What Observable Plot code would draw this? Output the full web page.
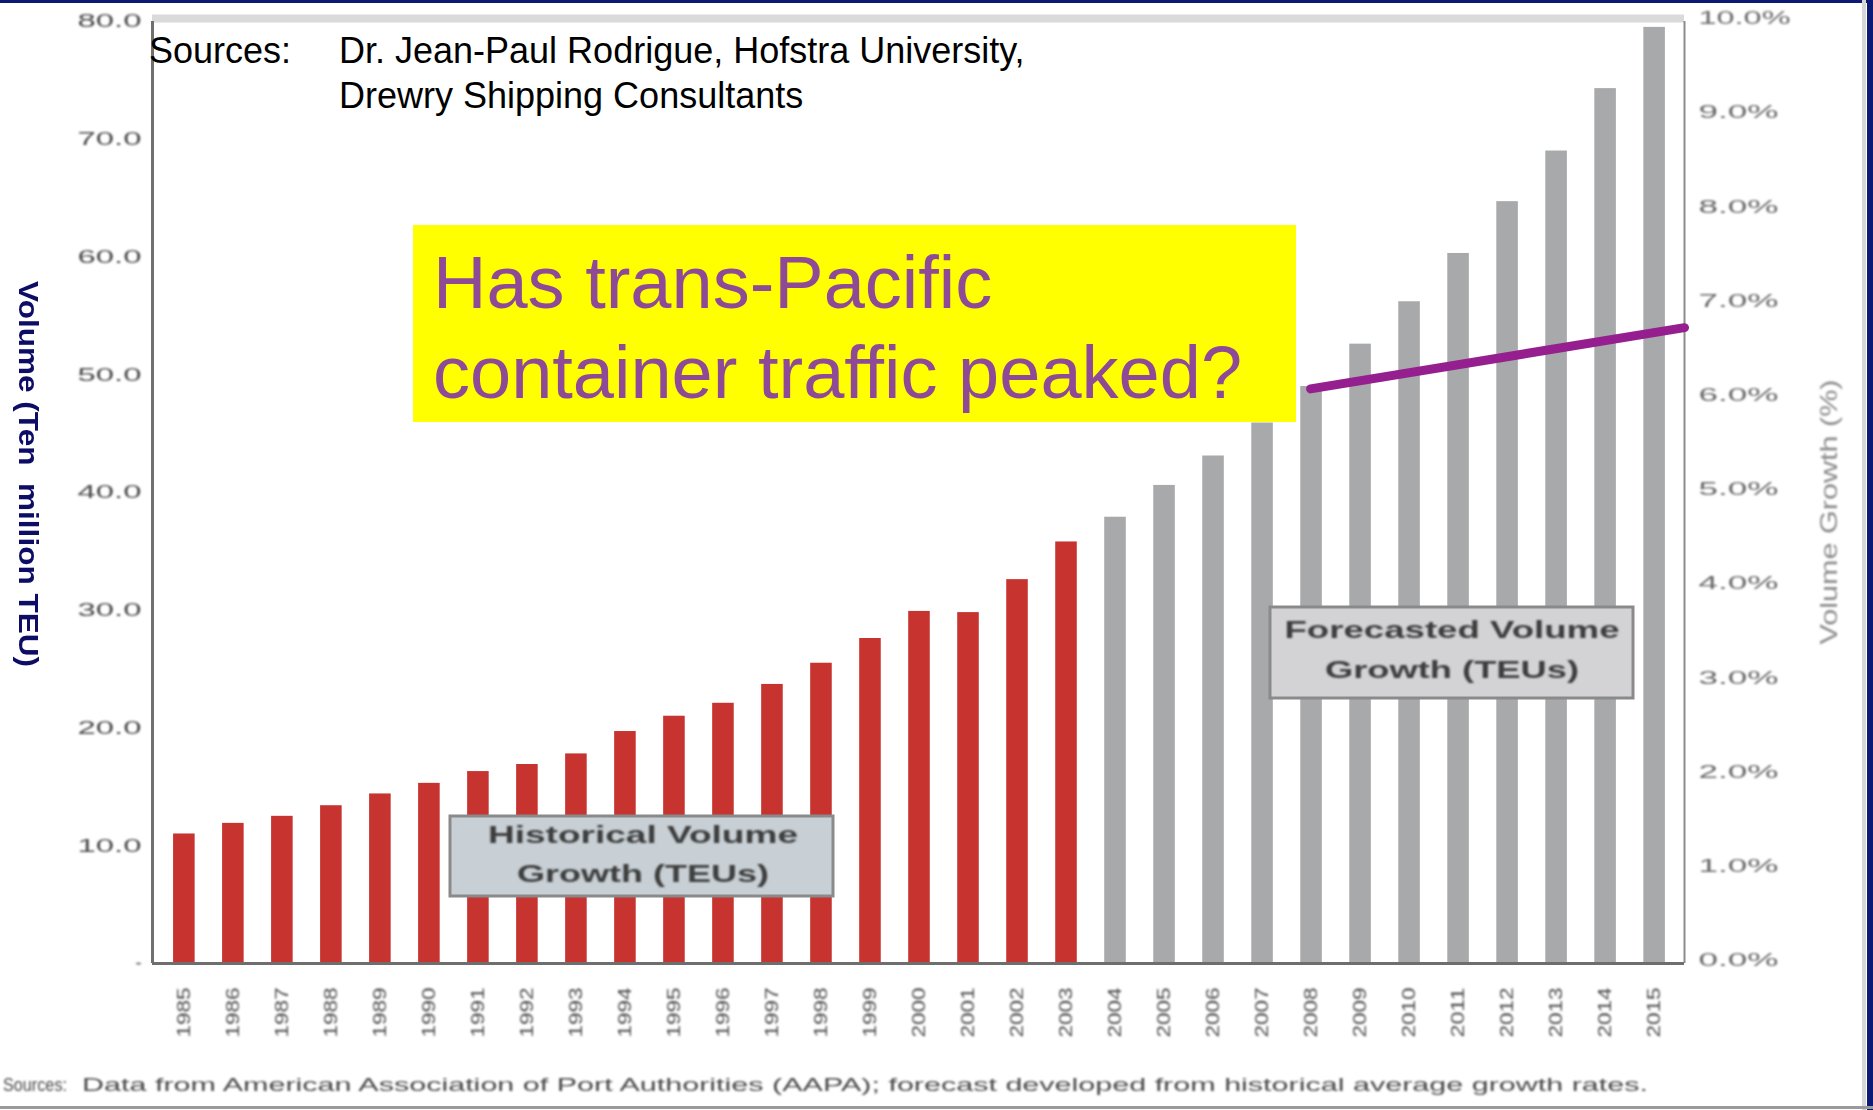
<!DOCTYPE html>
<html>
<head>
<meta charset="utf-8">
<script src="https://cdn.jsdelivr.net/npm/d3@7"></script>
<script src="https://cdn.jsdelivr.net/npm/@observablehq/plot@0.6"></script>
<style>
  html, body { margin: 0; padding: 0; background: #fff; }
  #wrap { position: relative; width: 1873px; height: 1110px; overflow: hidden; background: #fff;
          font-family: "Liberation Sans", Arial, sans-serif; }
  #wrap > svg { position: absolute; left: 0; top: 0; }
  .src { position: absolute; font-size: 36px; line-height: 45px; color: #000; white-space: nowrap; }
  #callout { position: absolute; left: 413px; top: 225px; width: 883px; height: 197px; background: #ffff00;
             box-sizing: border-box; padding: 13px 0 0 20px; font-size: 74px; line-height: 90px; color: #8e4a97; white-space: nowrap; }
</style>
</head>
<body>
<div id="wrap">
  <div class="src" style="left:149px; top:28px;">Sources:</div>
  <div class="src" style="left:339px; top:28px;">Dr. Jean-Paul Rodrigue, Hofstra University,<br>Drewry Shipping Consultants</div>
</div>
<script>
// ---- data ----
const years = [1985, 1986, 1987, 1988, 1989, 1990, 1991, 1992, 1993, 1994,
               1995, 1996, 1997, 1998, 1999, 2000, 2001, 2002, 2003, 2004,
               2005, 2006, 2007, 2008, 2009, 2010, 2011, 2012, 2013, 2014, 2015];
const volumes = [11.0, 11.9, 12.5, 13.4, 14.4, 15.3, 16.3, 16.9, 17.8, 19.7,
                 21.0, 22.1, 23.7, 25.5, 27.6, 29.9, 29.8, 32.6, 35.8, 37.9,
                 40.6, 43.1, 45.9, 49.0, 52.6, 56.2, 60.3, 64.7, 69.0, 74.3, 79.5];
const lastHistoricalYear = 2003;
const periods = ["Historical Volume Growth (TEUs)", "Forecasted Volume Growth (TEUs)"];
const periodColors = ["#c7332f", "#a8a9ab"];
const leftTickValues = [0, 10, 20, 30, 40, 50, 60, 70, 80];
const leftTickLabels = ["-", "10.0", "20.0", "30.0", "40.0", "50.0", "60.0", "70.0", "80.0"];
const rightTickValues = [0, 8, 16, 24, 32, 40, 48, 56, 64, 72, 80];
const rightTickLabels = ["0.0%", "1.0%", "2.0%", "3.0%", "4.0%", "5.0%", "6.0%", "7.0%", "8.0%", "9.0%", "10.0%"];
const xDomain = [1984.35, 2015.61];
const yDomain = [0, 80];
const calloutLine = [{year: 2007.98, volume: 48.8}, {year: 2015.61, volume: 54.0}];

const data = years.map((year, i) => ({
  year, volume: volumes[i], period: year <= lastHistoricalYear ? periods[0] : periods[1]
}));

const plot = Plot.plot({
  width: 1873, height: 1110,
  marginLeft: 152, marginRight: 189, marginTop: 21, marginBottom: 147,
  style: {fontFamily: "Liberation Sans, Arial, sans-serif", fontSize: "18px", color: "#4d4d4d", background: "transparent"},
  x: {domain: xDomain, axis: null},
  y: {domain: yDomain, axis: null},
  color: {domain: periods, range: periodColors},
  marks: [
    Plot.ruleY([yDomain[1]], {stroke: "#dadada", strokeWidth: 8, dy: -3}),
    Plot.rectY(data, {x1: d => d.year - 0.22, x2: d => d.year + 0.22, y: "volume", fill: "period"}),
    Plot.axisX({ticks: years, tickFormat: d => String(d), tickRotate: -90, tickSize: 0, tickPadding: 24,
                color: "#505050", label: null}),
    Plot.axisY({anchor: "left", ticks: leftTickValues, tickFormat: d => leftTickLabels[leftTickValues.indexOf(d)],
                tickSize: 0, tickPadding: 11, color: "#4a4a4a", label: null}),
    Plot.axisY({anchor: "right", ticks: rightTickValues, tickFormat: d => rightTickLabels[rightTickValues.indexOf(d)],
                tickSize: 0, tickPadding: 14, color: "#686868", dy: -3, label: null}),
    Plot.ruleX([xDomain[0]], {stroke: "#707070", strokeWidth: 3}),
    Plot.ruleX([xDomain[1]], {stroke: "#8c8c8c", strokeWidth: 2}),
    Plot.ruleY([0], {stroke: "#6e6e6e", strokeWidth: 3}),
    Plot.line(calloutLine, {x: "year", y: "volume", stroke: "#951f8f", strokeWidth: 9})
  ]
});

const wrap = document.getElementById("wrap");
wrap.insertBefore(plot, wrap.firstChild);

// soft blur + horizontal stretch of the (blurry, stretched) axis labels
const s = d3.select(plot);
const defs = s.append("defs");
defs.append("filter").attr("id", "soft").attr("x", "-20%").attr("y", "-20%").attr("width", "140%").attr("height", "140%")
  .append("feGaussianBlur").attr("stdDeviation", 1.0);
s.selectAll('g[aria-label="x-axis tick label"], g[aria-label="y-axis tick label"]').attr("filter", "url(#soft)");
s.selectAll('g[aria-label="x-axis tick label"] text').attr("textLength", 50).attr("lengthAdjust", "spacingAndGlyphs");
s.selectAll('g[aria-label="y-axis tick label"]').each(function() {
  const g = d3.select(this);
  const anchor = g.attr("text-anchor");
  g.selectAll("text").each(function() {
    const t = d3.select(this); const txt = t.text();
    if (txt === "-") return;
    const len = anchor === "start" ? (txt.length > 4 ? 92 : 80) : 64;
    t.attr("textLength", len).attr("lengthAdjust", "spacingAndGlyphs");
  });
});

// ---- overlay: legend boxes, axis titles, notes, frame ----
const ov = d3.select(wrap).append("svg").attr("width", 1873).attr("height", 1110)
  .style("font-family", "Liberation Sans, Arial, sans-serif");
const od = ov.append("defs");
od.append("filter").attr("id", "soft2").attr("x", "-10%").attr("y", "-30%").attr("width", "120%").attr("height", "160%")
  .append("feGaussianBlur").attr("stdDeviation", 1.1);

const boxes = [
  {x: 450, y: 816, w: 383, h: 80, fill: "#c8d0d5", lines: ["Historical Volume", "Growth (TEUs)"], cx: 643, ys: [843, 882], lens: [310, 252]},
  {x: 1270, y: 607, w: 363, h: 91, fill: "#d3d3d6", lines: ["Forecasted Volume", "Growth (TEUs)"], cx: 1452, ys: [638, 678], lens: [335, 254]}
];
boxes.forEach(b => {
  ov.append("rect").attr("x", b.x).attr("y", b.y).attr("width", b.w).attr("height", b.h)
    .attr("fill", b.fill).attr("stroke", "#8a8a8a").attr("stroke-width", 3);
  const g = ov.append("g").attr("filter", "url(#soft2)");
  b.lines.forEach((ln, i) => {
    g.append("text").attr("x", b.cx).attr("y", b.ys[i]).attr("text-anchor", "middle")
      .attr("font-size", 24).attr("font-weight", "bold").attr("fill", "#3c3c3c")
      .attr("textLength", b.lens[i]).attr("lengthAdjust", "spacingAndGlyphs").text(ln);
  });
});

// left axis title
ov.append("text").attr("transform", "translate(19,474) rotate(90)").attr("text-anchor", "middle")
  .attr("font-size", 28).attr("font-weight", "bold").attr("fill", "#0d0d66")
  .attr("xml:space", "preserve").style("white-space", "pre")
  .attr("textLength", 386).attr("lengthAdjust", "spacingAndGlyphs")
  .text("Volume (Ten  million TEU)");

// right axis title
ov.append("text").attr("transform", "translate(1837,512) rotate(-90)").attr("text-anchor", "middle")
  .attr("font-size", 24).attr("fill", "#8a8a8a").attr("filter", "url(#soft2)")
  .attr("textLength", 265).attr("lengthAdjust", "spacingAndGlyphs")
  .text("Volume Growth (%)");

// notes line
const notes = ov.append("g").attr("filter", "url(#soft2)").attr("fill", "#4a4a4a").attr("font-size", 19);
notes.append("text").attr("x", 3).attr("y", 1091).attr("textLength", 64).attr("lengthAdjust", "spacingAndGlyphs").text("Sources:");
notes.append("text").attr("x", 82).attr("y", 1091).attr("textLength", 1566).attr("lengthAdjust", "spacingAndGlyphs")
  .text("Data from American Association of Port Authorities (AAPA); forecast developed from historical average growth rates.");

// slide frame lines
ov.append("rect").attr("x", 0).attr("y", 0).attr("width", 1873).attr("height", 3).attr("fill", "#0d1a73");
ov.append("rect").attr("x", 1862).attr("y", 0).attr("width", 4).attr("height", 1110).attr("fill", "#d6d6d6");
ov.append("rect").attr("x", 1867).attr("y", 0).attr("width", 6).attr("height", 1110).attr("fill", "#0d1a73");
ov.append("rect").attr("x", 0).attr("y", 1106).attr("width", 1873).attr("height", 3).attr("fill", "#9a9a9a");

// yellow callout box
const callout = document.createElement("div");
callout.id = "callout";
callout.innerHTML = "Has trans-Pacific<br>container traffic peaked?";
wrap.appendChild(callout);
</script>
</body>
</html>
